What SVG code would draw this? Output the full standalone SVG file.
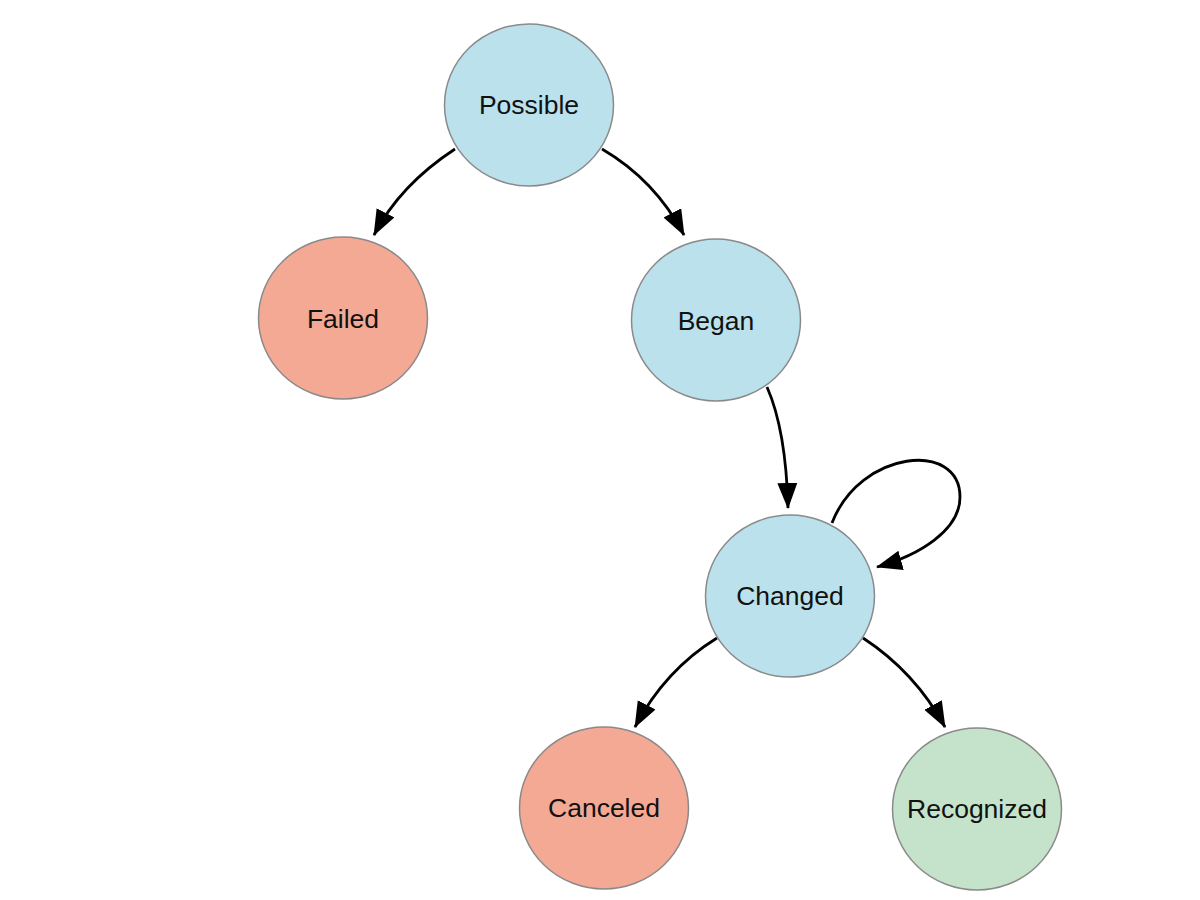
<svg xmlns="http://www.w3.org/2000/svg" width="1200" height="900" viewBox="0 0 1200 900">
<style>
.node ellipse{stroke:#8a8a8a;stroke-width:1.5}
.blue{fill:#bbe1ec}
.red{fill:#f4a995}
.green{fill:#c4e3ca}
.node text{font-family:"Liberation Sans",Arial,sans-serif;font-size:26.5px;fill:#111;text-anchor:middle}
.edge{fill:none;stroke:#000;stroke-width:2.8;marker-end:url(#arr)}
</style>
<defs>
<marker id="arr" markerUnits="userSpaceOnUse" markerWidth="28" markerHeight="22" refX="25" refY="10" orient="auto">
<path d="M0,0 L26,10 L0,20 z" fill="#000"/>
</marker>
</defs>
<rect width="1200" height="900" fill="#fff"/>
<g id="connectors">
<path class="edge" d="M455,149 Q400,185 374,235"/>
<path class="edge" d="M602,149 Q655,180 684,235"/>
<path class="edge" d="M767,387 Q786,430 788,508"/>
<path class="edge" d="M832,523 C860,450 960,440 960,497 C960,530 920,555 877,567"/>
<path class="edge" d="M717,638 Q665,670 635,727"/>
<path class="edge" d="M863,638 Q915,672 945,727"/>
</g>
<g id="possible" class="node"><ellipse class="blue" cx="529" cy="105" rx="84.5" ry="81"/><text x="529" y="114">Possible</text></g>
<g id="failed" class="node"><ellipse class="red" cx="343" cy="318" rx="84.5" ry="81"/><text x="343" y="328">Failed</text></g>
<g id="began" class="node"><ellipse class="blue" cx="716" cy="320" rx="84.5" ry="81"/><text x="716" y="330">Began</text></g>
<g id="changed" class="node"><ellipse class="blue" cx="790" cy="596" rx="84.5" ry="81"/><text x="790" y="605">Changed</text></g>
<g id="canceled" class="node"><ellipse class="red" cx="604" cy="808" rx="84.5" ry="81"/><text x="604" y="817">Canceled</text></g>
<g id="recognized" class="node"><ellipse class="green" cx="977" cy="809" rx="84.5" ry="81"/><text x="977" y="818">Recognized</text></g>
</svg>
